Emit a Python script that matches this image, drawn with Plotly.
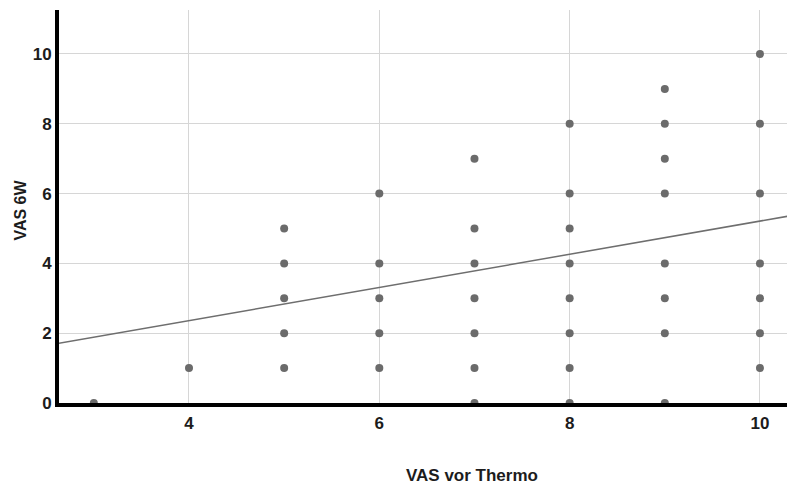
import plotly.graph_objects as go

# Data
vas_vor_thermo = [3,
                  4,
                  5, 5, 5, 5, 5,
                  6, 6, 6, 6, 6,
                  7, 7, 7, 7, 7, 7, 7,
                  8, 8, 8, 8, 8, 8, 8, 8,
                  9, 9, 9, 9, 9, 9, 9, 9,
                  10, 10, 10, 10, 10, 10, 10]
vas_6w = [0,
          1,
          1, 2, 3, 4, 5,
          1, 2, 3, 4, 6,
          0, 1, 2, 3, 4, 5, 7,
          0, 1, 2, 3, 4, 5, 6, 8,
          0, 2, 3, 4, 6, 7, 8, 9,
          1, 2, 3, 4, 6, 8, 10]

# Trend line endpoints
trend_x = [2.63, 10.29]
trend_y = [1.71, 5.35]

x_ticks = [4, 6, 8, 10]
y_ticks = [0, 2, 4, 6, 8, 10]

FONT = "Liberation Sans, Arial, sans-serif"
tick_font = dict(family=FONT, size=17, color="#1c1c1c")

fig = go.Figure()
fig.add_trace(go.Scatter(
    x=vas_vor_thermo, y=vas_6w, mode="markers",
    marker=dict(size=8, color="#6b6b6b"),
    showlegend=False, hoverinfo="x+y",
))
fig.add_trace(go.Scatter(
    x=trend_x, y=trend_y, mode="lines",
    line=dict(color="#6e6e6e", width=1.5),
    showlegend=False, hoverinfo="skip",
))

fig.update_layout(
    width=787, height=484,
    margin=dict(l=59, r=0, t=10, b=81, autoexpand=False),
    paper_bgcolor="white", plot_bgcolor="white",
    xaxis=dict(
        range=[2.634, 10.284], tickvals=x_ticks,
        ticktext=[f"<b>{v}</b>" for v in x_ticks],
        tickfont=tick_font, showgrid=True, gridcolor="#d6d6d6", gridwidth=1,
        showline=True, linecolor="black", linewidth=4,
        zeroline=False, ticks="", ticklabelstandoff=2, automargin=False,
    ),
    yaxis=dict(
        range=[0, 11.26], tickvals=y_ticks,
        ticktext=[f"<b>{v}</b>" for v in y_ticks],
        tickfont=tick_font, showgrid=True, gridcolor="#d6d6d6", gridwidth=1,
        showline=True, linecolor="black", linewidth=4,
        zeroline=False, ticks="", automargin=False,
    ),
    annotations=[
        dict(
            text="<b>VAS vor Thermo</b>", xref="paper", yref="paper",
            x=0.567, y=-0.184, xanchor="center", yanchor="middle",
            showarrow=False, font=dict(family=FONT, size=17, color="#1c1c1c"),
        ),
        dict(
            text="<b>VAS 6W</b>", xref="paper", yref="paper",
            x=-0.0534, y=0.49, xanchor="center", yanchor="middle", textangle=-90,
            showarrow=False, font=dict(family=FONT, size=16, color="#1c1c1c"),
        ),
    ],
)

fig.write_html(
    "out.html",
    config={"displayModeBar": False},
    post_script="document.body.style.margin='0';document.body.style.padding='0';",
)
